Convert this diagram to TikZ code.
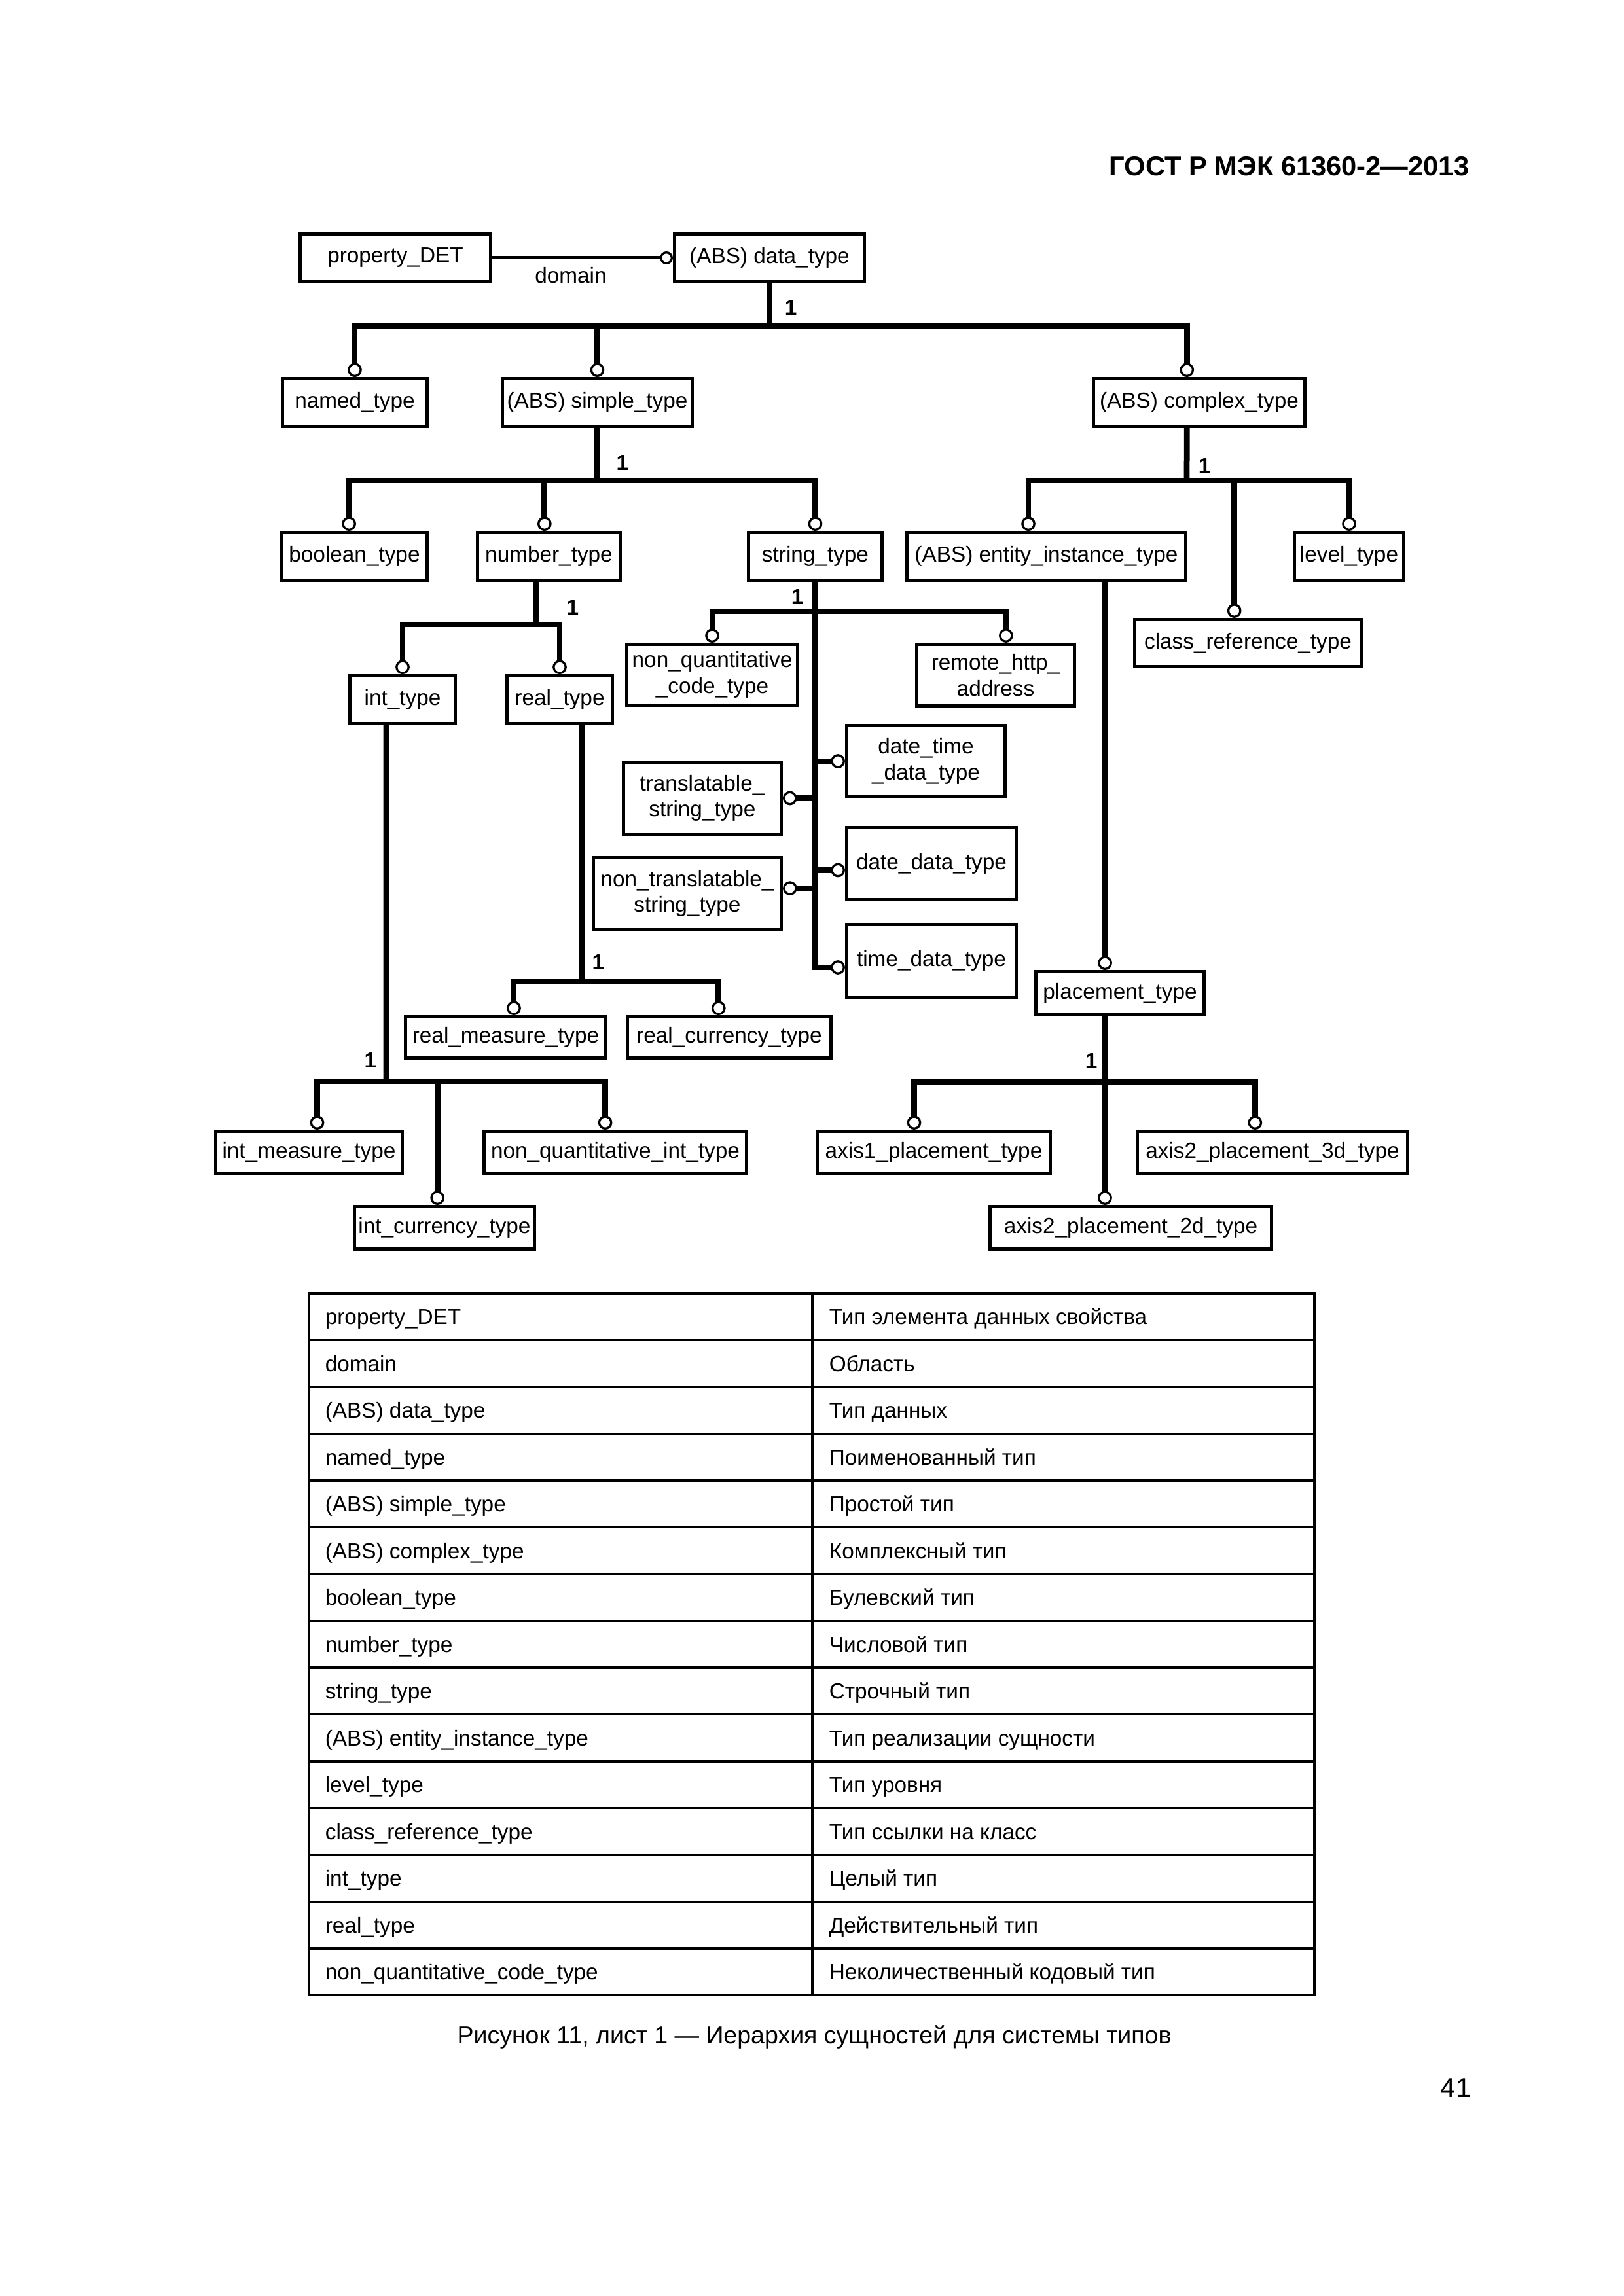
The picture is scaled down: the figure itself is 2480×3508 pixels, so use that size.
\documentclass[tikz,border=0pt]{standalone}
\usepackage{fontspec}
\setmainfont{Liberation Sans}
\usetikzlibrary{arrows.meta}

\begin{document}
\begin{tikzpicture}[x=0.24pt, y=-0.24pt]
        \tikzstyle{typebox} = [rectangle, draw=black, line width=1.2pt, inner sep=1pt, text centered, align=center, font=\fontsize{8}{9.5}\selectfont];
        \tikzstyle{subtype} = [line width=2.1pt, -{Circle[length=5.2pt, width=5.2pt, line width=0.8pt, fill=white]}];
        \tikzstyle{trunk} = [line width=2.1pt];
        \tikzstyle{cardlabel} = [inner sep=0pt, font=\fontsize{8}{9.5}\selectfont\bfseries];
        \tikzstyle{cell} = [inner sep=0pt, anchor=base west, font=\fontsize{8}{9.5}\selectfont];
        \tikzstyle{tableline} = [line width=0.75pt];

        \fill[white] (0,0) rectangle (2480,3508);
        \useasboundingbox (0,0) rectangle (2480,3508);

        \node(header) [anchor=east, font=\fontsize{10}{12}\selectfont\bfseries] at (2259,254) {ГОСТ Р МЭК 61360-2—2013};

        % top level
        \node(propdet) [typebox, minimum width=69.8pt, minimum height=17.5pt] at (604,394) {property\_DET};
        \node(datatype) [typebox, minimum width=69.6pt, minimum height=17.5pt] at (1175.5,394) {(ABS) data\_type};
        \draw[line width=1.2pt, -{Circle[length=4.8pt, width=4.8pt, line width=0.8pt, fill=white]}] (propdet.east) -- (datatype.west);
        \node(domain) [font=\fontsize{8}{9.5}\selectfont] at (872,421) {domain};

        \node(named) [typebox, minimum width=53pt, minimum height=17.5pt] at (542,615) {named\_type};
        \node(simple) [typebox, minimum width=69.6pt, minimum height=17.5pt] at (912.5,615) {(ABS) simple\_type};
        \node(complex) [typebox, minimum width=77.5pt, minimum height=17.5pt] at (1832,615) {(ABS) complex\_type};

        \node(boolean) [typebox, minimum width=53.3pt, minimum height=17.5pt] at (541.5,850) {boolean\_type};
        \node(number) [typebox, minimum width=52.3pt, minimum height=17.5pt] at (838.5,850) {number\_type};
        \node(string) [typebox, minimum width=49pt, minimum height=17.5pt] at (1245.5,850) {string\_type};
        \node(entity) [typebox, minimum width=102.2pt, minimum height=17.5pt] at (1598.5,850) {(ABS) entity\_instance\_type};
        \node(level) [typebox, minimum width=40.1pt, minimum height=17.5pt] at (2061,850) {level\_type};
        \node(classref) [typebox, minimum width=83pt, minimum height=17.3pt] at (1906.5,982.5) {class\_reference\_type};

        \node(int) [typebox, minimum width=38.6pt, minimum height=17.5pt] at (615,1069) {int\_type};
        \node(real) [typebox, minimum width=38.6pt, minimum height=17.5pt] at (855,1069) {real\_type};
        \node(nqcode) [typebox, minimum width=62.6pt, minimum height=22.3pt] at (1088,1031) {non\_quantitative\\\_code\_type};
        \node(remote) [typebox, minimum width=57.8pt, minimum height=22.6pt] at (1521,1031.5) {remote\_http\_\\address};

        \node(datetime) [typebox, minimum width=58.1pt, minimum height=26.2pt] at (1414.5,1163) {date\_time\\\_data\_type};
        \node(translatable) [typebox, minimum width=57.8pt, minimum height=26.4pt] at (1073,1219.5) {translatable\_\\string\_type};
        \node(date) [typebox, minimum width=62.2pt, minimum height=26.4pt] at (1423,1319.5) {date\_data\_type};
        \node(nontrans) [typebox, minimum width=68.9pt, minimum height=26.4pt] at (1050,1365.5) {non\_translatable\_\\string\_type};
        \node(time) [typebox, minimum width=62.2pt, minimum height=26.6pt] at (1423,1468) {time\_data\_type};

        \node(placement) [typebox, minimum width=61.7pt, minimum height=15.8pt] at (1711,1517.5) {placement\_type};
        \node(realmeasure) [typebox, minimum width=73.4pt, minimum height=15.1pt] at (772.5,1585) {real\_measure\_type};
        \node(realcurrency) [typebox, minimum width=74.6pt, minimum height=15.1pt] at (1114,1585) {real\_currency\_type};

        \node(intmeasure) [typebox, minimum width=68.4pt, minimum height=15.6pt] at (472,1761) {int\_measure\_type};
        \node(nqint) [typebox, minimum width=96.2pt, minimum height=15.6pt] at (940,1761) {non\_quantitative\_int\_type};
        \node(intcurrency) [typebox, minimum width=66pt, minimum height=15.6pt] at (679,1876) {int\_currency\_type};
        \node(axisone) [typebox, minimum width=85.4pt, minimum height=15.6pt] at (1426.5,1761) {axis1\_placement\_type};
        \node(axisthree) [typebox, minimum width=99.1pt, minimum height=15.6pt] at (1944,1761) {axis2\_placement\_3d\_type};
        \node(axistwo) [typebox, minimum width=103.2pt, minimum height=15.6pt] at (1727.5,1876) {axis2\_placement\_2d\_type};

        % data_type
        \coordinate (dtjoin) at (1175.5,498);
        \draw[trunk] (datatype.south) -- (dtjoin);
        \draw[subtype] (dtjoin) -| (named.north);
        \draw[subtype] (dtjoin) -| (simple.north);
        \draw[subtype] (dtjoin) -| ([xshift=-4.5pt]complex.north);
        \node(onedt) [cardlabel] at (1208,470) {1};

        % simple_type
        \coordinate (stjoin) at (912.5,734);
        \draw[trunk] (simple.south) -- (stjoin);
        \draw[subtype] (stjoin) -| ([xshift=-2pt]boolean.north);
        \draw[subtype] (stjoin) -| ([xshift=-1.6pt]number.north);
        \draw[subtype] (stjoin) -| (string.north);
        \node(onest) [cardlabel] at (951,707) {1};

        % complex_type
        \coordinate (ctjoin) at (1813,734);
        \draw[trunk] ([xshift=-4.5pt]complex.south) -- (ctjoin);
        \draw[subtype] (ctjoin) -| ([xshift=-6.6pt]entity.north);
        \draw[subtype] (ctjoin) -| ([xshift=-5pt]classref.north);
        \draw[subtype] (ctjoin) -| (level.north);
        \node(onect) [cardlabel] at (1840,712) {1};

        % number_type
        \coordinate (ntjoin) at (818.5,954);
        \draw[trunk] ([xshift=-4.8pt]number.south) -- (ntjoin);
        \draw[subtype] (ntjoin) -| (int.north);
        \draw[subtype] (ntjoin) -| (real.north);
        \node(onent) [cardlabel] at (875,928) {1};

        % string_type
        \coordinate (sgjoin) at (1245.5,934);
        \coordinate (datein) at ([yshift=-2.4pt]date.west);
        \coordinate (nontransin) at ([yshift=2pt]nontrans.east);
        \coordinate (timein) at ([yshift=-2.4pt]time.west);
        \draw[subtype] (string.south) |- (timein);
        \draw[subtype] (sgjoin) -| (nqcode.north);
        \draw[subtype] (sgjoin) -| ([xshift=3.8pt]remote.north);
        \draw[subtype] (string.south |- datetime.west) -- (datetime.west);
        \draw[subtype] (string.south |- translatable.east) -- (translatable.east);
        \draw[subtype] (string.south |- datein) -- (datein);
        \draw[subtype] (string.south |- nontransin) -- (nontransin);
        \node(onesg) [cardlabel] at (1218,912) {1};

        % entity_instance_type
        \coordinate (plin) at ([xshift=-5.5pt]placement.north);
        \draw[subtype] (entity.south -| plin) -- (plin);

        % placement_type
        \coordinate (pljoin) at (1688,1653);
        \draw[trunk] (plin |- placement.south) -- (pljoin);
        \draw[subtype] (pljoin) -| ([xshift=-7.2pt]axisone.north);
        \draw[subtype] (pljoin) -| ([xshift=-6.4pt]axisthree.north);
        \draw[subtype] (pljoin) -- (pljoin |- axistwo.north);
        \node(onepl) [cardlabel] at (1667,1621) {1};

        % real_type
        \coordinate (rtjoin) at (889,1500);
        \draw[trunk] ([xshift=8.2pt]real.south) -- (rtjoin);
        \draw[subtype] (rtjoin) -| ([xshift=3pt]realmeasure.north);
        \draw[subtype] (rtjoin) -| ([xshift=-3.9pt]realcurrency.north);
        \node(onert) [cardlabel] at (914,1470) {1};

        % int_type
        \coordinate (itjoin) at (590,1652);
        \draw[trunk] ([xshift=-6pt]int.south) -- (itjoin);
        \draw[subtype] (itjoin) -| ([xshift=3pt]intmeasure.north);
        \draw[subtype] (itjoin) -| ([xshift=-3.7pt]nqint.north);
        \draw[subtype] (itjoin) -| ([xshift=-2.6pt]intcurrency.north);
        \node(oneit) [cardlabel] at (566,1620) {1};

        % table
        \draw[tableline] (472,1976) rectangle (2008,3048);
        \draw[tableline] (1241,1976) -- (1241,3048);
        \foreach \i in {1,...,14}
            \draw[tableline] (472,{1976+71.5*\i}) -- (2008,{1976+71.5*\i});
        \foreach \en/\ru [count=\i] in {{property\_DET}/{Тип элемента данных свойства},
                {domain}/{Область},
                {(ABS) data\_type}/{Тип данных},
                {named\_type}/{Поименованный тип},
                {(ABS) simple\_type}/{Простой тип},
                {(ABS) complex\_type}/{Комплексный тип},
                {boolean\_type}/{Булевский тип},
                {number\_type}/{Числовой тип},
                {string\_type}/{Строчный тип},
                {(ABS) entity\_instance\_type}/{Тип реализации сущности},
                {level\_type}/{Тип уровня},
                {class\_reference\_type}/{Тип ссылки на класс},
                {int\_type}/{Целый тип},
                {real\_type}/{Действительный тип},
                {non\_quantitative\_code\_type}/{Неколичественный кодовый тип}} {
            \node(term\i) [cell] at (496,{1976+71.5*(\i-0.5)+12}) {\en};
            \node(meaning\i) [cell] at (1266,{1976+71.5*(\i-0.5)+12}) {\ru};
        }

        \node(caption) [font=\fontsize{9}{11}\selectfont] at (1244,3112) {Рисунок 11, лист 1 — Иерархия сущностей для системы типов};
        \node(pagenum) [font=\fontsize{10}{12}\selectfont] at (2224,3190) {41};

    \end{tikzpicture}
\end{document}
